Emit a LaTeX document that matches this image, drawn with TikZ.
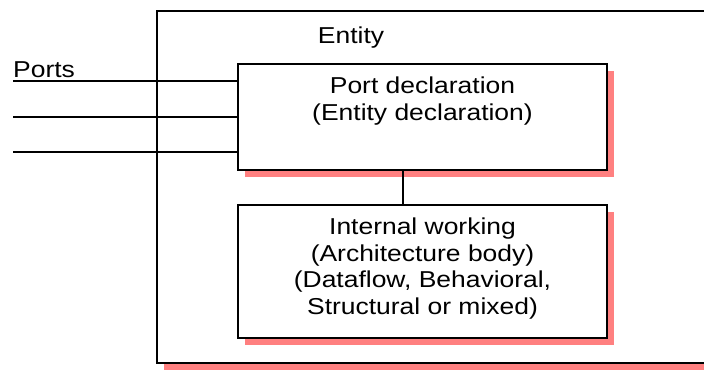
\documentclass[tikz,border=0pt]{standalone}
\usepackage{fontspec}
\setmainfont{Liberation Sans}[FakeStretch=1.15]
\usetikzlibrary{shadows}

\definecolor{shadowpink}{RGB}{255,128,128}

\tikzset{
    block/.style={draw, line width=1.2pt, fill=white, inner sep=0pt,
        outer sep=0pt, minimum width=369pt,
        drop shadow={shadow xshift=7pt, shadow yshift=-7pt,
            fill=shadowpink, opacity=1}},
    blocktext/.style={inner sep=0pt, align=center,
        font=\fontsize{23}{26.5}\selectfont},
    portline/.style={line width=1.2pt}
}

\begin{document}
\begin{tikzpicture}[x=1pt, y=-1pt]
            \useasboundingbox (0,0) rectangle (704,370);
            \clip (0,0) rectangle (704,370);
            \node [block, minimum width=580pt, minimum height=352pt]
                (entitybox) at (447,187) {};
            \node [blocktext, anchor=north] (entitytext) at (351,27) {Entity};
            \node [block, minimum height=106pt] (portbox) at (422.5,117) {};
            \node [block, minimum height=133pt] (workbox) at (422.5,271.5) {};
            \node [blocktext, anchor=north] (porttext)
                at ([yshift=-13pt]portbox.north)
                {Port declaration\\(Entity declaration)};
            \node [blocktext, anchor=north] (worktext)
                at ([yshift=-13pt]workbox.north)
                {Internal working\\(Architecture body)\\(Dataflow, Behavioral,\\Structural or mixed)};
            \coordinate (p1) at (13,81);
            \coordinate (p2) at (13,117);
            \coordinate (p3) at (13,152);
            \node [blocktext, anchor=south west] (portslabel)
                at ([yshift=3pt]p1) {Ports};
            \draw [portline] (p1) -- (p1 -| portbox.west);
            \draw [portline] (p2) -- (p2 -| portbox.west);
            \draw [portline] (p3) -- (p3 -| portbox.west);
            \draw [portline] ([xshift=-19.5pt]portbox.south)
                -- ([xshift=-19.5pt]workbox.north);
        \end{tikzpicture}
\end{document}
